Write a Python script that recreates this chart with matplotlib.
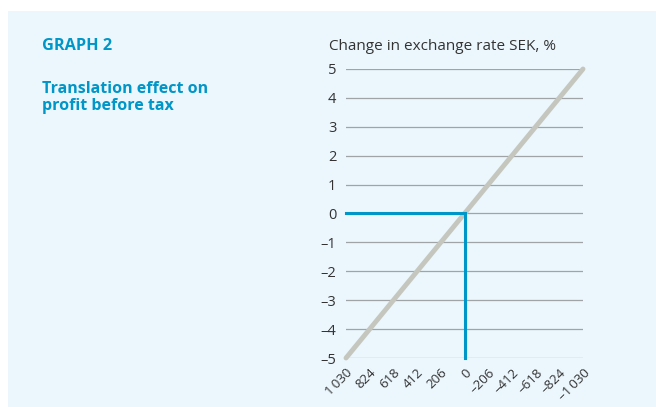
import matplotlib as mpl
mpl.use('Agg')

import matplotlib.pyplot as plt
from matplotlib.patches import Rectangle

# change in exchange rate SEK, % and translation effect (MSEK)
rate_change = [-5, -4, -3, -2, -1, 0, 1, 2, 3, 4, 5]
effect = [1030, 824, 618, 412, 206, 0, -206, -412, -618, -824, -1030]

# highlighted case: 0 % change -> 0 effect
marker_x = [1030, 0, 0]
marker_y = [0, 0, -5]

title = 'GRAPH 2'
subtitle = 'Translation effect on\nprofit before tax'
ylabel = 'Change in exchange rate SEK, %'

BLUE = '#0096c8'
GREY_LINE = '#c5c7be'
GRID = '#a0a4a7'
TEXT = '#333333'
BG = '#ebf6fd'

plt.rcParams['font.family'] = ['Open Sans', 'DejaVu Sans']


def fmt(v):
    s = '{:,}'.format(abs(v)).replace(',', '\u2009')
    return ('\u2013' + s) if v < 0 else s


def main():
    fig = plt.figure(figsize=(6.56, 4.07), dpi=100)
    bg = Rectangle((8 / 656, 0), 1, 1 - 11 / 407, transform=fig.transFigure,
                   facecolor=BG, edgecolor='none', zorder=-10)
    fig.patches.append(bg)

    ax = fig.add_axes([346 / 656, 1 - 358 / 407, 237 / 656, 289 / 407])
    ax.set_facecolor('none')

    for y in rate_change:
        ax.axhline(y, color=GRID, lw=0.9, zorder=1)

    ax.plot(effect, rate_change, color=GREY_LINE, lw=3.5, solid_capstyle='round',
            clip_on=False, zorder=2)
    ax.plot(marker_x, marker_y, color=BLUE, lw=2.2, solid_joinstyle='miter',
            clip_on=False, zorder=3)

    ax.set_xlim(1030, -1030)
    ax.set_ylim(-5, 5)
    ax.set_yticks(rate_change)
    ax.set_yticklabels([fmt(v) for v in rate_change], fontsize=10.5, color=TEXT)
    ax.set_xticks(effect)
    ax.set_xticklabels([fmt(v) for v in effect], fontsize=9.5, color=TEXT,
                       rotation=45, ha='right', va='top', rotation_mode='anchor')
    ax.tick_params(axis='both', length=0)
    ax.tick_params(axis='y', pad=7)
    ax.tick_params(axis='x', pad=6)
    for s in ax.spines.values():
        s.set_visible(False)

    fig.text(329 / 656, 1 - 47 / 407, ylabel, fontsize=11, color=TEXT, ha='left', va='center')
    fig.text(42 / 656, 1 - 46 / 407, title, fontsize=11.7, color=BLUE, fontweight='bold',
             ha='left', va='center')
    fig.text(42 / 656, 1 - 97.5 / 407, subtitle, fontsize=11.5, color=BLUE, fontweight='bold',
             ha='left', va='center', linespacing=1.15)

    plt.savefig('out.png', dpi=100)


if __name__ == '__main__':
    main()
